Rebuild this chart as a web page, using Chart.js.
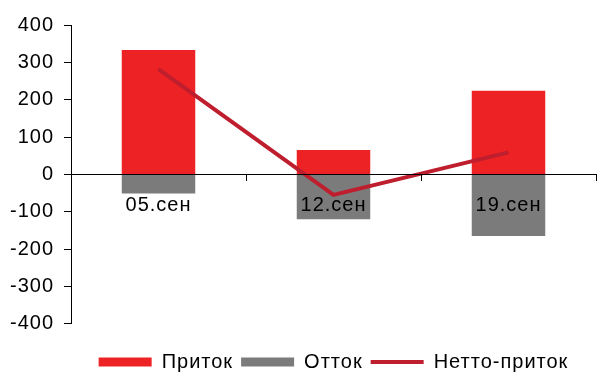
<!DOCTYPE html>
<html>
<head>
<meta charset="utf-8">
<script src="https://cdn.jsdelivr.net/npm/chart.js@4/dist/chart.umd.min.js"></script>
<style>
  html, body { margin: 0; padding: 0; background: #fff; }
  #wrap { width: 597px; height: 372px; position: relative; }
</style>
</head>
<body>
<div id="wrap"><canvas id="flows"></canvas></div>
<script>
// Недельные потоки: приток, отток и нетто
const weeks = ['05.сен', '12.сен', '19.сен'];
const inflow = [333, 65, 224];
const outflow = [-51, -120, -165];
const netFlow = [282, -55, 59];
const yTicks = [-400, -300, -200, -100, 0, 100, 200, 300, 400];

Chart.defaults.font.family = '"Liberation Sans", Arial, sans-serif';
Chart.defaults.font.size = 20;
Chart.defaults.color = '#000';

// чуть разреженный шрифт, как в исходной диаграмме
const wideText = {
	id: 'wideText',
	beforeLayout(chart) { chart.ctx.letterSpacing = '1px'; },
	beforeDraw(chart) { chart.ctx.letterSpacing = '1px'; }
};

const ctx = document.getElementById('flows').getContext('2d');
const flowsChart = new Chart(ctx, {
	data: {
		labels: weeks,
		datasets: [{
			type: 'bar',
			label: 'Приток',
			data: inflow,
			backgroundColor: '#ED2224',
			borderWidth: 0,
			pointStyle: 'rect',
			barPercentage: 1,
			categoryPercentage: 0.42,
			order: 1
		}, {
			type: 'bar',
			label: 'Отток',
			data: outflow,
			backgroundColor: '#7B7B7B',
			borderWidth: 0,
			pointStyle: 'rect',
			barPercentage: 1,
			categoryPercentage: 0.42,
			order: 2
		}, {
			// линия поверх столбцов
			type: 'line',
			label: 'Нетто-приток',
			data: netFlow,
			borderColor: '#BE1E2D',
			backgroundColor: '#BE1E2D',
			borderWidth: 4,
			pointRadius: 0,
			pointStyle: 'line',
			tension: 0,
			order: 0
		}]
	},
	options: {
		responsive: true,
		maintainAspectRatio: false,
		animation: false,
		layout: {
			padding: { top: 25, right: 1, left: 0, bottom: -10 }
		},
		scales: {
			x: {
				stacked: true,
				position: { y: 0 },
				offset: true,
				grid: {
					drawOnChartArea: false,
					offset: true,
					tickLength: 6,
					color: '#000',
					z: 1
				},
				border: { color: '#000', width: 1, z: 1 },
				ticks: { padding: 13, maxRotation: 0, autoSkip: false, z: 1 }
			},
			y: {
				stacked: true,
				min: -400,
				max: 400,
				afterBuildTicks: (scale) => {
					scale.ticks = yTicks.map(v => ({ value: v }));
				},
				afterFit: (scale) => { scale.width = 71; },
				grid: {
					drawOnChartArea: false,
					tickLength: 7,
					color: '#000'
				},
				border: { color: '#000', width: 1 },
				ticks: { padding: 10 }
			}
		},
		plugins: {
			tooltip: { enabled: false },
			legend: {
				position: 'bottom',
				fullSize: false,
				title: {
					display: true,
					text: '',
					font: { size: 1 },
					padding: { top: 19, bottom: 0 }
				},
				labels: {
					usePointStyle: true,
					pointStyleWidth: 53,
					boxHeight: 9,
					padding: 8,
					color: '#000',
					sort: (a, b) => a.datasetIndex - b.datasetIndex
				}
			}
		}
	},
	plugins: [wideText]
});
</script>
</body>
</html>
